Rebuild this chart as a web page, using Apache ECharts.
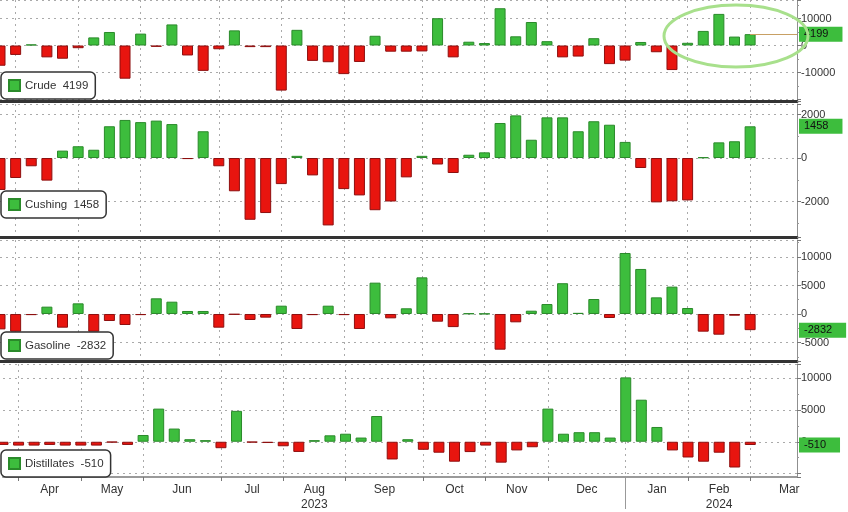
<!DOCTYPE html>
<html>
<head>
<meta charset="utf-8">
<script src="https://cdn.jsdelivr.net/npm/echarts@6/dist/echarts.min.js"></script>
<style>
html,body{margin:0;padding:0;background:#fff;}
#chart{width:848px;height:512px;}
</style>
</head>
<body>
<div id="chart"></div>
<script>
// ---- categories (weekly) ----
const weeks = [
 '2023-03-31','2023-04-07','2023-04-14','2023-04-21','2023-04-28',
 '2023-05-05','2023-05-12','2023-05-19','2023-05-26',
 '2023-06-02','2023-06-09','2023-06-16','2023-06-23','2023-06-30',
 '2023-07-07','2023-07-14','2023-07-21','2023-07-28',
 '2023-08-04','2023-08-11','2023-08-18','2023-08-25',
 '2023-09-01','2023-09-08','2023-09-15','2023-09-22','2023-09-29',
 '2023-10-06','2023-10-13','2023-10-20','2023-10-27',
 '2023-11-03','2023-11-10','2023-11-17','2023-11-24',
 '2023-12-01','2023-12-08','2023-12-15','2023-12-22','2023-12-29',
 '2024-01-05','2024-01-12','2024-01-19','2024-01-26',
 '2024-02-02','2024-02-09','2024-02-16','2024-02-23',
 '2024-03-01','2024-03-08','2024-03-15','2024-03-22'
];
// ---- series values (thousand barrels, weekly change) ----
const crude = [-7500,-3500,400,-4400,-4900,-1000,3000,5000,-12300,4400,-500,7800,-3700,-9400,-1400,5600,-600,-600,-16700,5800,-5700,-6200,-10600,-6100,3600,-2300,-2300,-2200,10100,-4400,1400,900,13800,3400,8700,1600,-4400,-4100,2700,-6900,-5600,1300,-2500,-9100,1000,5400,11700,3300,4199];
const cushing = [-1470,-920,-380,-1040,340,540,380,1460,1750,1650,1720,1560,-50,1230,-380,-1530,-2840,-2530,-1200,100,-800,-3100,-1430,-1720,-2400,-2000,-890,100,-300,-690,150,260,1610,1960,840,1870,1870,1230,1690,1530,740,-460,-2040,-1990,-1950,30,720,770,1458];
const gasoline = [-2700,-3100,-200,1290,-2400,1870,-3100,-1230,-1930,-200,2750,2160,530,530,-2400,-100,-1050,-640,1460,-2630,-200,1460,-200,-2630,5500,-760,1000,6430,-1350,-2300,100,50,-6260,-1460,580,1750,5400,200,2630,-700,10700,7900,2920,4800,1050,-3100,-3630,-300,-2832];
const distillates = [-500,-600,-600,-500,-600,-600,-600,-100,-500,1060,5200,2070,400,250,-1010,4850,-100,-200,-710,-1600,250,1010,1260,660,4040,-2780,400,-1260,-1720,-3130,-1620,-600,-3280,-1360,-860,5200,1260,1500,1500,660,10100,6600,2320,-1360,-2470,-3130,-1720,-4040,-510];
// ---- tick labels ----
const crudeTicks = [-10000, 0, 10000];
const cushingTicks = [-2000, 0, 2000];
const gasolineTicks = [-5000, 0, 5000, 10000];
const distillatesTicks = [0, 5000, 10000];
const monthLabels = ['Apr','May','Jun','Jul','Aug\n2023','Sep','Oct','Nov','Dec','Jan','Feb\n2024','Mar'];

const GREEN = '#3dbd3d', GREEN_B = '#2a8a2a';
const RED = '#e8150f', RED_B = '#8e0f0f';
const GRIDC = '#aaaaaa';

// month boundaries derived from the weekly dates
const monthStart = [];
for (let i = 1; i < weeks.length; i++) {
  if (weeks[i].slice(5,7) !== weeks[i-1].slice(5,7)) monthStart.push(i);
}
const monthSet = new Set(monthStart);
let yearStart = weeks.findIndex((w,i) => i > 0 && w.slice(0,4) !== weeks[i-1].slice(0,4));
// label axis at half-week resolution, labels centered in each month
const halfCats = [];
for (let h = 0; h <= (weeks.length - 1) * 2; h++) halfCats.push('h' + h);
const halfLabel = {};
monthStart.forEach((s, k) => {
  const d = new Date(weeks[s] + 'T00:00:00Z');
  const dim = new Date(Date.UTC(d.getUTCFullYear(), d.getUTCMonth() + 1, 0)).getUTCDate();
  const nWeeks = Math.ceil((dim - (d.getUTCDate() - 1)) / 7);
  halfLabel['h' + (2 * s + nWeeks)] = monthLabels[k];
});

const panels = [
  {name:'Crude', data:crude, ticks:crudeTicks, top:0, height:101, min:-20560, max:16850, split:4, line:true},
  {name:'Cushing', data:cushing, ticks:cushingTicks, top:104, height:133, min:-3632, max:2483, split:3},
  {name:'Gasoline', data:gasoline, ticks:gasolineTicks, top:240, height:121, min:-8245, max:12980, split:4},
  {name:'Distillates', data:distillates, ticks:distillatesTicks, top:364, height:117, min:-5530, max:12200, split:4}
];
const legendTops = [72, 191, 332, 450];

const grid = [], xAxis = [], yAxis = [], series = [], legend = [];
panels.forEach((p, i) => {
  grid.push({left:-2, right:51, top:p.top, height:p.height, containLabel:false});
  xAxis.push({
    gridIndex:i, type:'category', data:weeks, boundaryGap:false,
    axisLine:{show:true, onZero:false, lineStyle:{color: i < 3 ? '#333' : '#9a9a9a', width: i < 3 ? 3 : 2}},
    axisTick:{show: i === 3, interval:(idx) => monthSet.has(idx), length:4, lineStyle:{color:'#777'}},
    axisLabel:{show:false},
    splitLine:{show:true, interval:(idx) => monthSet.has(idx), lineStyle:{color:GRIDC, type:[2,4], width:1}}
  });
  yAxis.push({
    gridIndex:i, type:'value', position:'right', min:p.min, max:p.max, splitNumber:p.split,
    axisLine:{show:true, lineStyle:{color:'#8f8f8f', width:1}},
    axisTick:{show:true, length:4, lineStyle:{color:'#777'}},
    minorTick:{show:true, splitNumber:2, length:2, lineStyle:{color:'#999'}},
    axisLabel:{fontSize:11, color:'#333', margin:4, showMinLabel:false, showMaxLabel:false,
      formatter:(v) => p.ticks.includes(v) ? String(v) : ''},
    splitLine:{show:true, lineStyle:{color:GRIDC, type:[2,4], width:1}}
  });
  const last = p.data[p.data.length - 1];
  series.push({
    name:p.name, type:'bar', xAxisIndex:i, yAxisIndex:i, barWidth:11,
    itemStyle:{color:GREEN, borderColor:GREEN_B, borderWidth:1},
    data:p.data.map(v => ({value:v, itemStyle:{color: v >= 0 ? GREEN : RED, borderColor: v >= 0 ? GREEN_B : RED_B}})),
    markLine:{
      silent:true, symbol:['none','none'], animation:false,
      lineStyle:{color: p.line ? '#c8a064' : 'rgba(0,0,0,0)', width:1, type:'solid'},
      label:{show:true, position:'end', distance:2, formatter:String(last),
        backgroundColor:GREEN, color:'#111', fontSize:11, padding:[2,14,2,5], borderRadius:[0,0,0,0]},
      data:[[{coord:[weeks[p.data.length - 1], last]}, {coord:[weeks[weeks.length - 1], last]}]]
    }
  });
  legend.push({
    data:[p.name], left:1, top:legendTops[i], orient:'horizontal',
    icon:'rect', itemWidth:11, itemHeight:11, itemGap:4,
    backgroundColor:'#fff', borderColor:'#333', borderWidth:1.5, borderRadius:5,
    padding:[7,7,7,7],
    textStyle:{fontSize:11.5, color:'#333'},
    formatter:(n) => n + '  ' + last
  });
});
// month label axis (half-week resolution)
xAxis.push({
  gridIndex:3, type:'category', data:halfCats, boundaryGap:false, position:'bottom',
  axisLine:{show:false}, axisTick:{show:false}, splitLine:{show:false},
  axisLabel:{show:true, interval:0, margin:5, fontSize:12, color:'#333', lineHeight:15,
    formatter:(v) => halfLabel[v] || ''}
});
// year separator tick
xAxis.push({
  gridIndex:3, type:'category', data:weeks, boundaryGap:false, position:'bottom',
  axisLine:{show:false}, splitLine:{show:false}, axisLabel:{show:false},
  axisTick:{show:true, interval:(idx) => idx === yearStart, length:32, lineStyle:{color:'#999'}}
});

const chart = echarts.init(document.getElementById('chart'), null, {renderer:'canvas'});
chart.setOption({
  animation:false,
  backgroundColor:'#fff',
  textStyle:{fontFamily:'Liberation Sans, Arial, sans-serif'},
  grid, xAxis, yAxis, series, legend,
  graphic:[{type:'ellipse', z:100, silent:true,
    shape:{cx:736, cy:36, rx:72, ry:31},
    style:{fill:'none', stroke:'#a8e08c', lineWidth:3}}]
});
</script>
</body>
</html>
